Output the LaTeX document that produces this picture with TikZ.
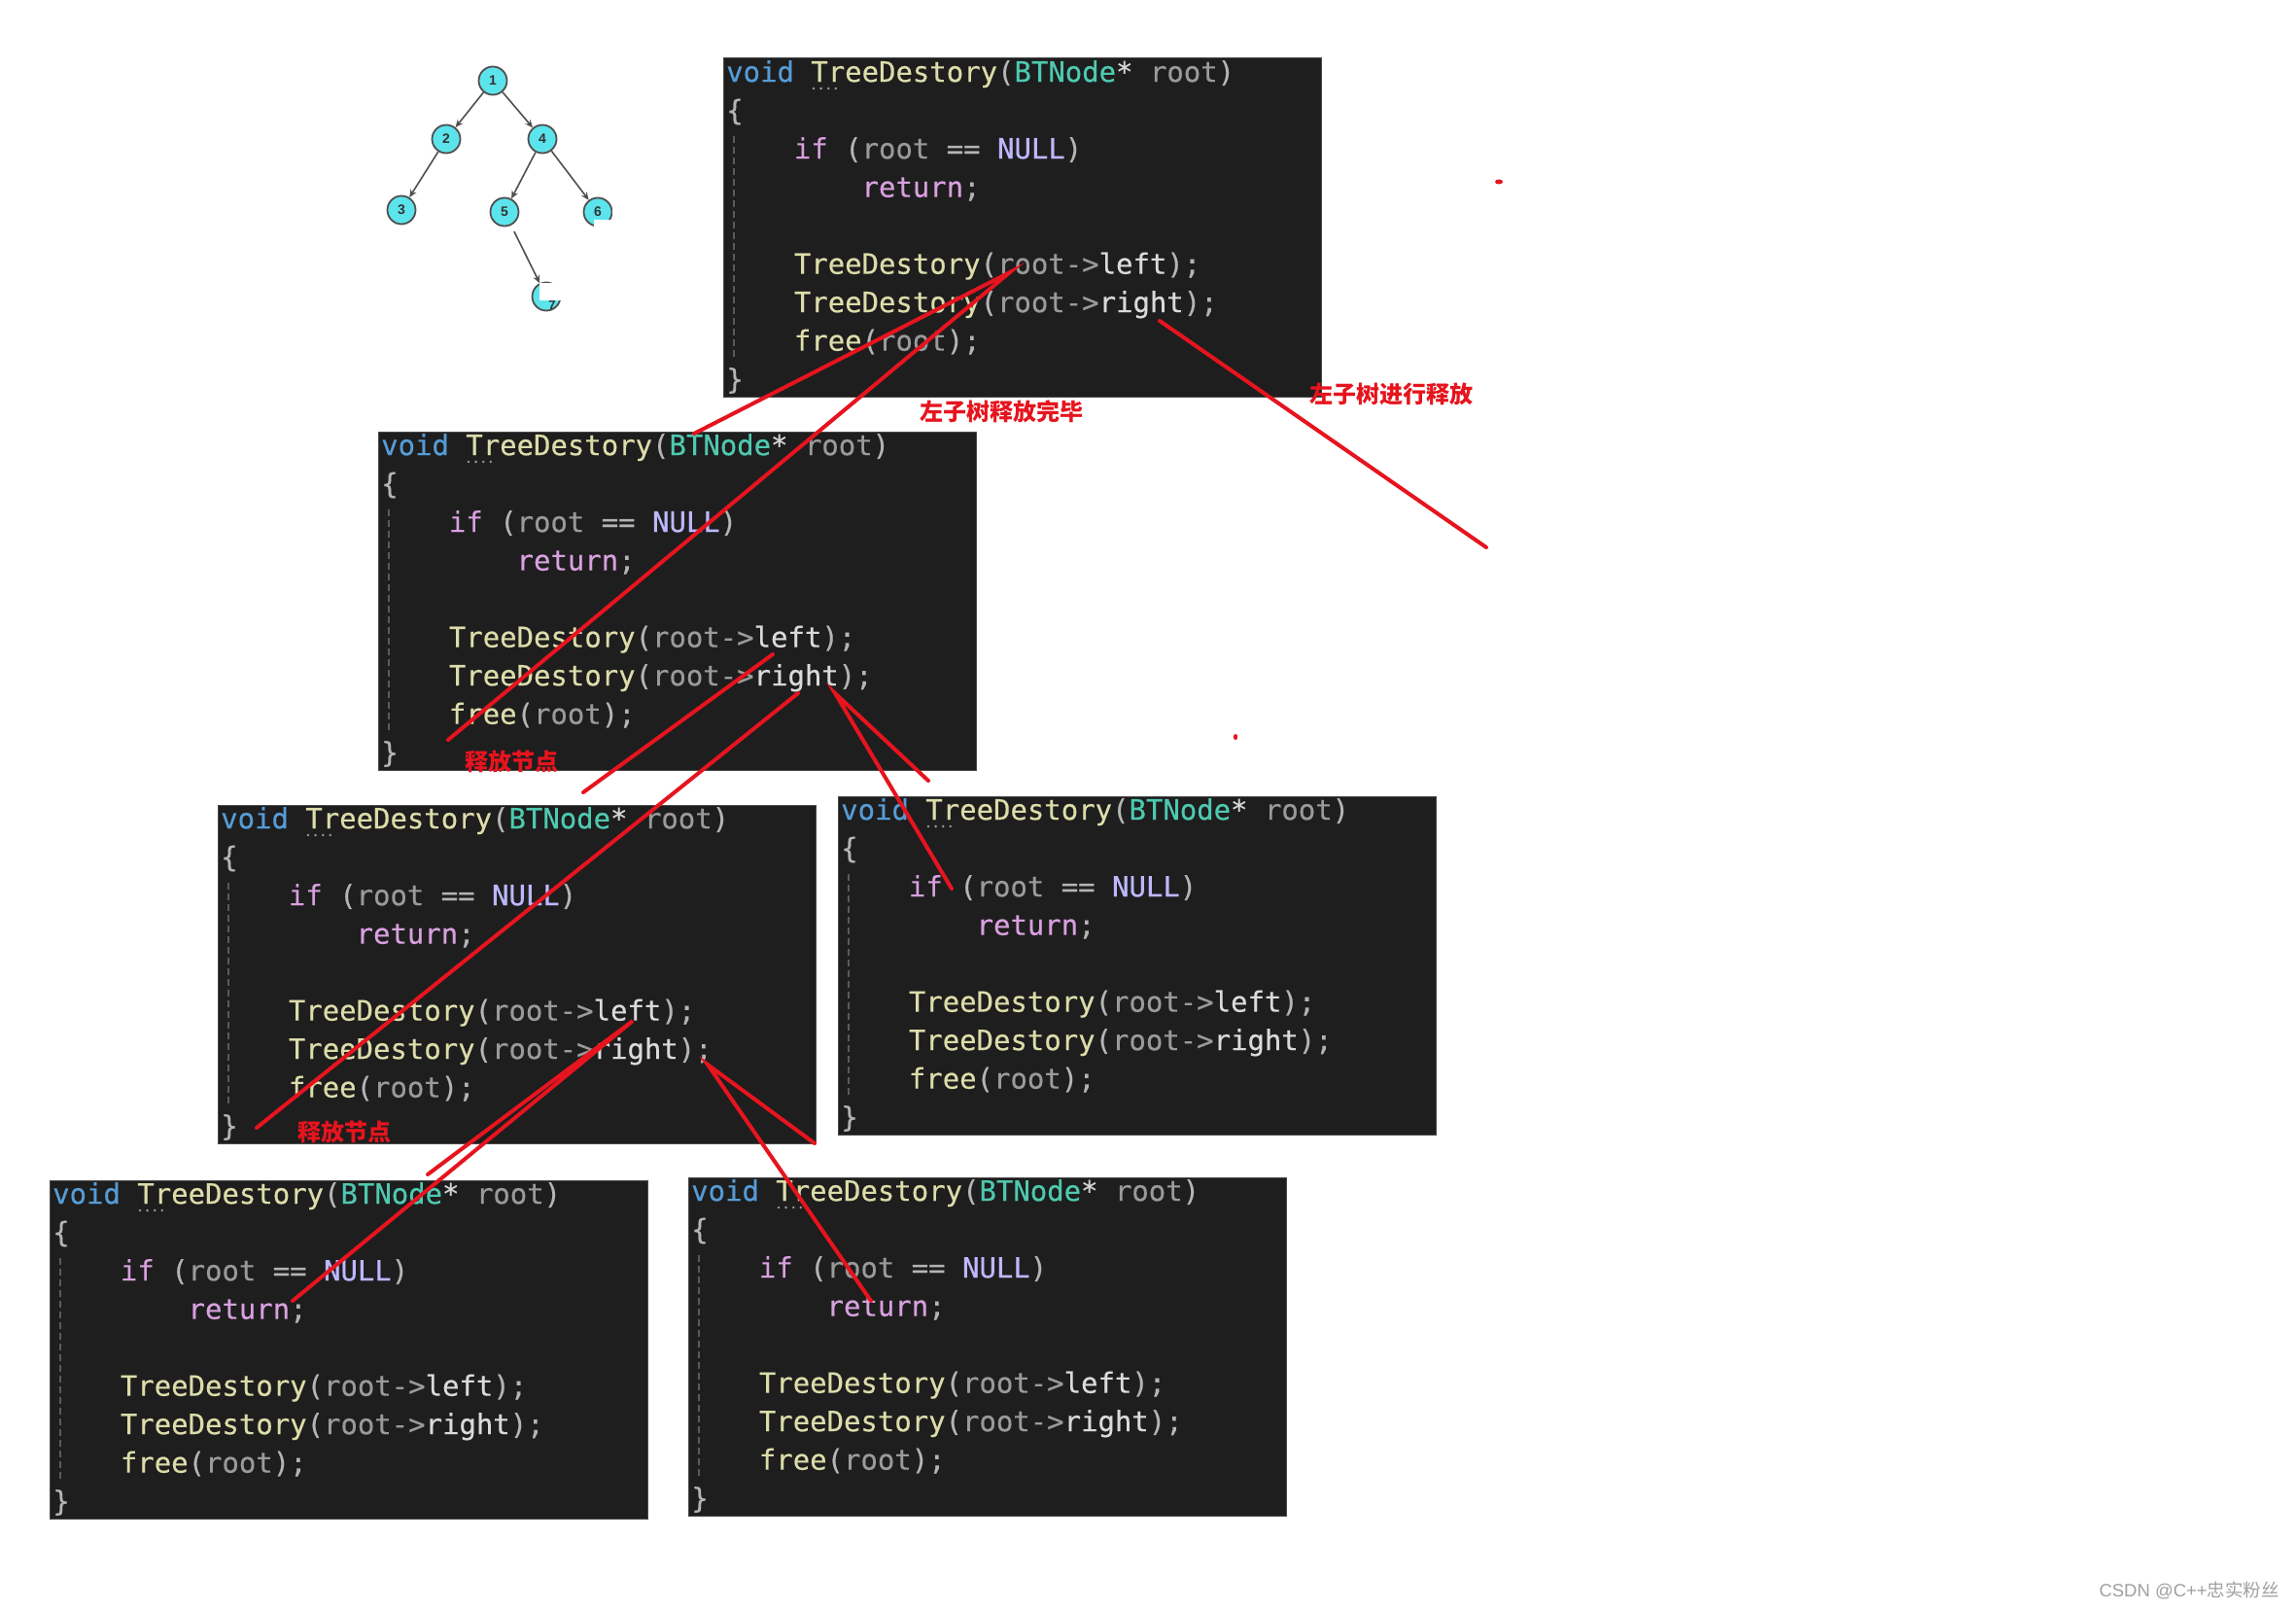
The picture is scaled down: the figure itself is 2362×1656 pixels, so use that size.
\documentclass[tikz,border=0pt]{standalone}
\usepackage{fontspec}
\usetikzlibrary{arrows.meta}
\setsansfont{Liberation Sans}
\newfontfamily\codefont[FakeBold=0.4]{DejaVu Sans Mono}
\newfontfamily\cjkfont{Noto Sans CJK SC}
\newfontfamily\wmfont{Liberation Sans}
\definecolor{codebgc}{HTML}{1E1E1E}
\definecolor{boxedge}{HTML}{4A4A4A}
\definecolor{ckw}{HTML}{569CD6}
\definecolor{cfn}{HTML}{DCDCAA}
\definecolor{cty}{HTML}{4EC9B0}
\definecolor{cpa}{HTML}{9A9A9A}
\definecolor{cpu}{HTML}{B4B4B4}
\definecolor{cct}{HTML}{D8A0DF}
\definecolor{cma}{HTML}{BEB7FF}
\definecolor{cme}{HTML}{DADADA}
\definecolor{cst}{HTML}{D4D4D4}
\definecolor{cguide}{HTML}{5A5A5A}
\definecolor{annored}{HTML}{E6141E}
\definecolor{tfill}{HTML}{5CE4EC}
\definecolor{tline}{HTML}{505050}
\definecolor{tnum}{HTML}{333333}
\definecolor{wmgrey}{HTML}{A0A0A0}
\newcommand\tkKw[1]{\textcolor{ckw}{#1}}
\newcommand\tkFn[1]{\textcolor{cfn}{#1}}
\newcommand\tkTy[1]{\textcolor{cty}{#1}}
\newcommand\tkPa[1]{\textcolor{cpa}{#1}}
\newcommand\tkPu[1]{\textcolor{cpu}{#1}}
\newcommand\tkCt[1]{\textcolor{cct}{#1}}
\newcommand\tkMa[1]{\textcolor{cma}{#1}}
\newcommand\tkMe[1]{\textcolor{cme}{#1}}
\newcommand\tkSt[1]{\textcolor{cst}{#1}}
\tikzset{
  codebg/.style={fill=codebgc, draw=boxedge, line width=1pt, minimum width=615pt,
    minimum height=348pt, anchor=north west, inner sep=0pt, outer sep=0pt},
  code/.style={anchor=mid west, inner sep=0pt, text=cpu,
    font=\codefont\fontsize{28.95}{34}\selectfont},
  guide/.style={draw=cguide, line width=1.5pt, dash pattern=on 7pt off 4pt},
  redline/.style={draw=annored, line width=4pt, line cap=round},
  redlabel/.style={text=annored, inner sep=0pt,
    font=\cjkfont\bfseries\fontsize{24}{28}\selectfont},
  tnode/.style={circle, fill=tfill, draw=tline, line width=1.8pt, minimum size=29pt,
    inner sep=0pt, text=tnum, font=\sffamily\bfseries\fontsize{14}{16}\selectfont},
  tedge/.style={draw=tline, line width=1.6pt, -{Stealth[length=8pt,width=7pt]}},
  mask/.style={fill=white, draw=none}
}
\newcommand\codebox[3]{%
\begin{scope}[shift={(#2,#3)}]
\node[codebg] (#1) at (0,0) {};
\draw[guide] (11,80) -- (11,310);
\foreach \dd in {0,1,2,3} \fill[cpa] (93+7.6*\dd,31) circle (1.4pt);
\node[code] (#1-0) at (3,22) {\tkKw{void} \tkFn{TreeDestory}\tkPu{(}\tkTy{BTNode}\tkSt{*} \tkPa{root}\tkPu{)}};
\node[code] (#1-1) at (3,61.5) {\tkPu{\{}};
\node[code] (#1-2) at (72.7,101) {\tkCt{if} \tkPu{(}\tkPa{root} \tkPu{==} \tkMa{NULL}\tkPu{)}};
\node[code] (#1-3) at (142.4,140.5) {\tkCt{return}\tkPu{;}};
\node[code] (#1-5) at (72.7,219.5) {\tkFn{TreeDestory}\tkPu{(}\tkPa{root->}\tkMe{left}\tkPu{);}};
\node[code] (#1-6) at (72.7,259) {\tkFn{TreeDestory}\tkPu{(}\tkPa{root->}\tkMe{right}\tkPu{);}};
\node[code] (#1-7) at (72.7,298.5) {\tkFn{free}\tkPu{(}\tkPa{root}\tkPu{);}};
\node[code] (#1-8) at (3,338) {\tkPu{\}}};
\end{scope}}
\begin{document}
\begin{tikzpicture}[x=1pt,y=-1pt]
\fill[white] (0,0) rectangle (2362,1656);
\useasboundingbox (0,0) rectangle (2362,1656);
% tree
\node[tnode] (t1) at (507,83) {1};
\node[tnode] (t2) at (459,143) {2};
\node[tnode] (t4) at (558,143) {4};
\node[tnode] (t3) at (413,216) {3};
\node[tnode] (t5) at (519,218) {5};
\node[tnode] (t6) at (615,218) {6};
\node[tnode] (t7) at (562,305) {};
\draw[tedge] (t1) -- (t2);
\draw[tedge] (t1) -- (t4);
\draw[tedge] (t2) -- (t3);
\draw[tedge] (t4) -- (t5);
\draw[tedge] (t4) -- (t6);
\draw[tedge, shorten <=7pt] (t5) -- (t7);
\fill[mask] (629.5,200) rectangle (640,240);
\fill[mask] (611,226) rectangle (640,240);
\fill[mask] (555,291) rectangle (580,309);
\node[text=tnum, inner sep=0pt, font=\sffamily\bfseries\fontsize{13}{15}\selectfont] (t7n) at (568,314) {7};
% code boxes
\codebox{A}{744}{60}
\codebox{B}{389}{444}
\codebox{C}{224}{828}
\codebox{D}{862}{819}
\codebox{E}{51}{1214}
\codebox{F}{708}{1211}
% annotation points
\coordinate (pa) at (1039,280);
\coordinate (pa1) at (714,446);
\coordinate (pa2) at (461,761);
\coordinate (pb) at (1193,330);
\coordinate (pb1) at (1529,563);
\coordinate (pc) at (795,673);
\coordinate (pc1) at (600,815);
\coordinate (pd) at (821,713);
\coordinate (pd1) at (264,1160);
\coordinate (pe) at (859,713);
\coordinate (pe1) at (955,803);
\coordinate (pe2) at (979,914);
\coordinate (pf) at (651,1050);
\coordinate (pf1) at (440,1208);
\coordinate (pf2) at (301,1338);
\coordinate (pg) at (728,1095);
\coordinate (pg1) at (838,1176);
\coordinate (pg2) at (896,1338);
\draw[redline] (pa1) -- (pa) -- (pa2);
\draw[redline] (pb) -- (pb1);
\draw[redline] (pc) -- (pc1);
\draw[redline] (pd) -- (pd1);
\draw[redline] (pe1) -- (pe) -- (pe2);
\draw[redline] (pf1) -- (pf) -- (pf2);
\draw[redline] (pg1) -- (pg) -- (pg2);
\fill[annored] (1542,187) ellipse (4pt and 2.5pt);
\fill[annored] (1271,758) ellipse (2.2pt and 3pt);
% labels
\node[redlabel] (l1) at (1030,423) {左子树释放完毕};
\node[redlabel] (l2) at (1431,405) {左子树进行释放};
\node[redlabel] (l3) at (526,783) {释放节点};
\node[redlabel] (l4) at (354,1164) {释放节点};
% watermark
\node[anchor=east, inner sep=0pt, text=wmgrey, font=\fontsize{18.5}{20}\selectfont] (wm) at (2345,1636) {\wmfont CSDN @C++\cjkfont 忠实粉丝};
\end{tikzpicture}
\end{document}
